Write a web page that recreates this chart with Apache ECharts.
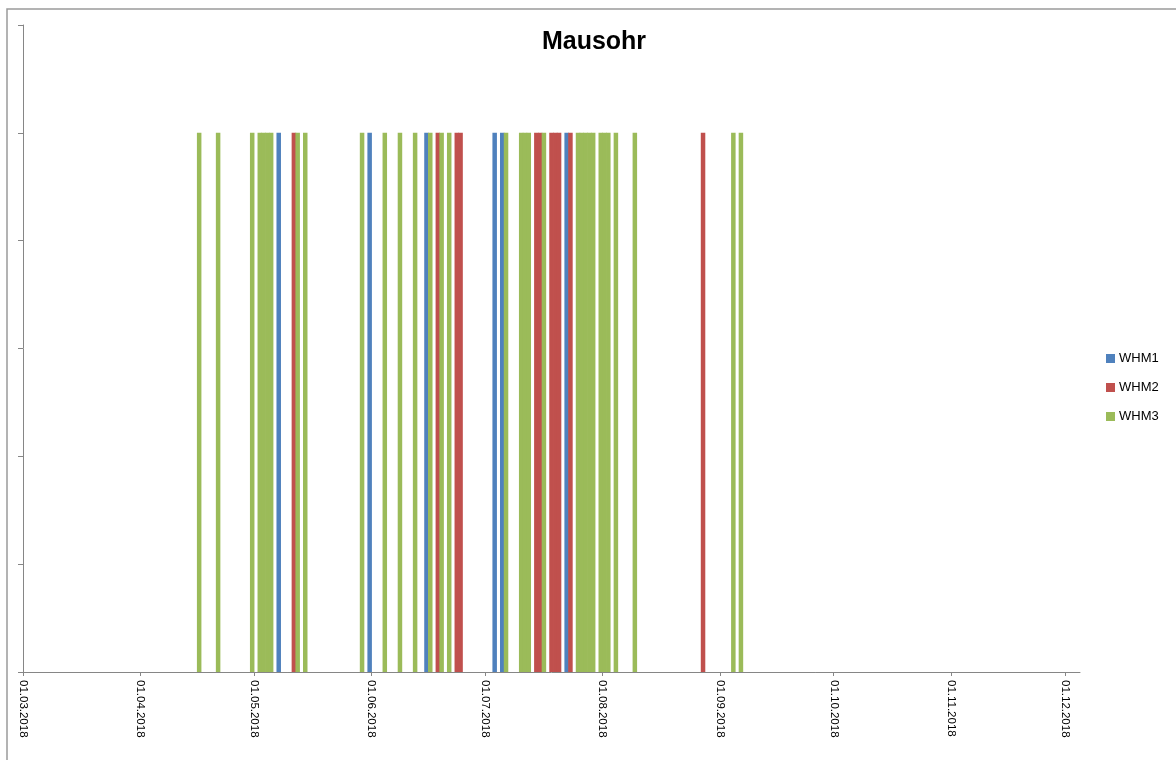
<!DOCTYPE html>
<html>
<head>
<meta charset="utf-8">
<script src="https://cdn.jsdelivr.net/npm/echarts@6/dist/echarts.min.js"></script>
<style>
html,body{margin:0;padding:0;background:#fff;}
#chart{width:1176px;height:760px;}
</style>
</head>
<body>
<div id="chart"></div>
<script>
const chartTitle = 'Mausohr';
const seriesNames = ['WHM1', 'WHM2', 'WHM3'];
const seriesColors = ['#4F81BD', '#C0504D', '#9BBB59'];

const whm1Dates = ['2018-05-07','2018-05-31','2018-06-15','2018-07-03','2018-07-05','2018-07-22'];
const whm1Values = [1,1,1,1,1,1];

const whm2Dates = ['2018-05-11','2018-06-18','2018-06-23','2018-06-24','2018-07-14','2018-07-15',
                   '2018-07-18','2018-07-19','2018-07-20','2018-07-23','2018-08-27'];
const whm2Values = [1,1,1,1,1,1,1,1,1,1,1];

const whm3Dates = ['2018-04-16','2018-04-21','2018-04-30','2018-05-02','2018-05-03','2018-05-04','2018-05-05',
                   '2018-05-12','2018-05-14','2018-05-29','2018-06-04','2018-06-08','2018-06-12','2018-06-16',
                   '2018-06-19','2018-06-21','2018-07-06','2018-07-10','2018-07-11','2018-07-12','2018-07-16',
                   '2018-07-25','2018-07-26','2018-07-27','2018-07-28','2018-07-29','2018-07-31','2018-08-01',
                   '2018-08-02','2018-08-04','2018-08-09','2018-09-04','2018-09-06'];
const whm3Values = [1,1,1,1,1,1,1,1,1,1,1,1,1,1,1,1,1,1,1,1,1,1,1,1,1,1,1,1,1,1,1,1,1];

const tickDates = ['2018-03-01','2018-04-01','2018-05-01','2018-06-01','2018-07-01','2018-08-01',
                   '2018-09-01','2018-10-01','2018-11-01','2018-12-01'];
const axisStart = '2018-03-01';
const axisEnd = '2018-12-05';
const yMax = 1.2, yInterval = 0.2;

function ts(s, hour) {
  const p = s.split('-').map(Number);
  return Date.UTC(p[0], p[1] - 1, p[2], hour || 0);
}
function pad(n){ return (n < 10 ? '0' : '') + n; }
function fmt(v) {
  const d = new Date(v);
  return pad(d.getUTCDate()) + '.' + pad(d.getUTCMonth() + 1) + '.' + d.getUTCFullYear();
}
function toData(dates, vals) {
  // each day occupies its own slot; the bar sits in the middle of its day
  return dates.map((d, i) => [ts(d, 12), vals[i]]);
}

const allDates = [whm1Dates, whm2Dates, whm3Dates];
const allVals = [whm1Values, whm2Values, whm3Values];
const tickTs = tickDates.map(d => ts(d));

const chart = echarts.init(document.getElementById('chart'), null, {renderer: 'canvas'});
const axisGray = '#868686';
chart.setOption({
  animation: false,
  backgroundColor: '#ffffff',
  textStyle: {fontFamily: 'Liberation Sans, Arial, sans-serif'},
  title: {
    text: chartTitle,
    left: 589,
    top: 25,
    textAlign: 'center',
    textStyle: {fontSize: 25, fontWeight: 'bold', color: '#000', fontFamily: 'Liberation Sans, Arial, sans-serif'}
  },
  legend: {
    orient: 'vertical',
    left: 1106,
    top: 352,
    padding: 0,
    icon: 'rect',
    itemWidth: 9,
    itemHeight: 9,
    itemGap: 16,
    textStyle: {fontSize: 13, color: '#000', padding: [0, 0, 0, -1]},
    data: seriesNames
  },
  grid: {left: 23, right: 96, top: 25, bottom: 88, containLabel: false},
  xAxis: {
    type: 'value',
    min: ts(axisStart),
    max: ts(axisEnd),
    axisLine: {show: true, onZero: false, lineStyle: {color: axisGray, width: 1}},
    axisTick: {show: true, length: 4, customValues: tickTs, lineStyle: {color: axisGray}},
    axisLabel: {
      show: true,
      customValues: tickTs,
      rotate: -90,
      margin: 8,
      fontSize: 11.5,
      color: '#000',
      showMinLabel: true,
      showMaxLabel: true,
      formatter: function (v) { return fmt(v); }
    },
    splitLine: {show: false}
  },
  yAxis: {
    type: 'value',
    min: 0,
    max: yMax,
    interval: yInterval,
    axisLine: {show: true, lineStyle: {color: axisGray, width: 1}},
    axisTick: {show: true, inside: false, length: 5, lineStyle: {color: axisGray}},
    axisLabel: {show: false},
    splitLine: {show: false}
  },
  series: seriesNames.map((name, i) => ({
    name: name,
    type: 'bar',
    barWidth: 4.5,
    barGap: '-100%',
    itemStyle: {color: seriesColors[i]},
    data: toData(allDates[i], allVals[i])
  })),
  graphic: [{
    type: 'rect',
    shape: {x: 7, y: 9, width: 1200, height: 800},
    style: {fill: null, stroke: '#9a9a9a', lineWidth: 1.5},
    silent: true,
    z: 100
  }]
});
</script>
</body>
</html>
